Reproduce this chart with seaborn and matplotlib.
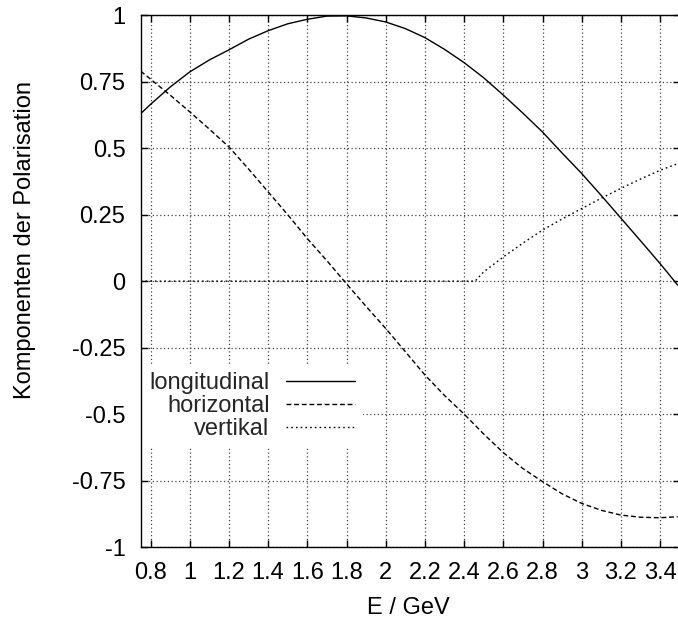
import matplotlib
matplotlib.use("Agg")
import matplotlib.pyplot as plt
import seaborn as sns
import pandas as pd

# ---- data ----
energy = [0.75, 0.8, 0.9, 1.0, 1.1, 1.2, 1.3, 1.4, 1.5, 1.6, 1.7, 1.8, 1.9, 2.0,
          2.1, 2.2, 2.3, 2.4, 2.5, 2.6, 2.7, 2.8, 2.9, 3.0, 3.1, 3.2, 3.3, 3.4, 3.49]
longitudinal = [0.63, 0.665, 0.73, 0.787, 0.832, 0.870, 0.91, 0.942, 0.968, 0.985,
                0.997, 0.998, 0.99, 0.975, 0.95, 0.916, 0.872, 0.822, 0.765, 0.700,
                0.632, 0.561, 0.482, 0.405, 0.322, 0.237, 0.152, 0.066, -0.015]
horizontal = [0.79, 0.76, 0.70, 0.637, 0.572, 0.505, 0.422, 0.336, 0.25, 0.160,
              0.077, -0.01, -0.095, -0.178, -0.265, -0.353, -0.43, -0.5, -0.575,
              -0.645, -0.705, -0.754, -0.80, -0.836, -0.862, -0.880, -0.888, -0.890, -0.886]
energy_v = [0.75, 2.456, 2.5, 2.6, 2.7, 2.8, 2.9, 3.0, 3.1, 3.2, 3.3, 3.4, 3.49]
vertikal = [0.0, 0.0, 0.035, 0.091, 0.143, 0.192, 0.234, 0.273, 0.312, 0.349, 0.384, 0.417, 0.442]

series_names = ["longitudinal", "horizontal", "vertikal"]
x_ticks = [0.8, 1.0, 1.2, 1.4, 1.6, 1.8, 2.0, 2.2, 2.4, 2.6, 2.8, 3.0, 3.2, 3.4]
x_ticklabels = ["0.8", "1", "1.2", "1.4", "1.6", "1.8", "2", "2.2", "2.4", "2.6", "2.8", "3", "3.2", "3.4"]
y_ticks = [-1, -0.75, -0.5, -0.25, 0, 0.25, 0.5, 0.75, 1]
y_ticklabels = ["-1", "-0.75", "-0.5", "-0.25", "0", "0.25", "0.5", "0.75", "1"]

FS = 17

sns.set_theme(style="white")
plt.rcParams["font.family"] = ["Liberation Sans", "DejaVu Sans"]

fig = plt.figure(figsize=(6.78, 6.24), dpi=100)
ax = fig.add_axes([140.7 / 678, 77 / 624, 539 / 678, 531.7 / 624])

df_l = pd.DataFrame({"E": energy, "P": longitudinal})
df_h = pd.DataFrame({"E": energy, "P": horizontal})
df_v = pd.DataFrame({"E": energy_v, "P": vertikal})

sns.lineplot(data=df_l, x="E", y="P", ax=ax, color="black", linewidth=1.0,
             linestyle="-", label=series_names[0], sort=False, estimator=None)
sns.lineplot(data=df_h, x="E", y="P", ax=ax, color="black", linewidth=1.0,
             linestyle=(0, (3.5, 2.0)), label=series_names[1], sort=False, estimator=None)
sns.lineplot(data=df_v, x="E", y="P", ax=ax, color="black", linewidth=1.0,
             linestyle=(0, (1.2, 2.2)), label=series_names[2], sort=False, estimator=None)

ax.set_xlim(0.75, 3.5)
ax.set_ylim(-1, 1)
ax.set_xticks(x_ticks)
ax.set_xticklabels(x_ticklabels)
ax.set_yticks(y_ticks)
ax.set_yticklabels(y_ticklabels)

ax.grid(True, color="#444444", linestyle=(0, (1, 2)), linewidth=0.9)
ax.set_axisbelow(True)
for s in ax.spines.values():
    s.set_visible(True)
    s.set_color("black")
    s.set_linewidth(1.0)
    s.set_zorder(6)

ax.tick_params(axis="both", which="major", direction="in", length=5, width=1,
               color="black", labelsize=FS, labelcolor="black", pad=11,
               top=True, right=True, bottom=True, left=True)

ax.set_xlabel("E / GeV", fontsize=FS, color="black")
ax.set_ylabel("Komponenten der Polarisation", fontsize=FS, color="black")
ax.xaxis.set_label_coords((408 - 140.7) / 539, (547 - 597) / 531.7)
ax.yaxis.set_label_coords((36 - 140.7) / 539, (547 - 240) / 531.7)

leg = ax.legend(loc="center", bbox_to_anchor=((252 - 140.7) / 539, (547 - 406) / 531.7),
                markerfirst=False, frameon=True, fontsize=FS, handlelength=2.9,
                handletextpad=0.7, labelspacing=0.04, borderpad=0.3,
                fancybox=False, borderaxespad=0)
leg.get_frame().set_facecolor("white")
leg.get_frame().set_edgecolor("white")
leg.get_frame().set_alpha(1.0)
for line in leg.get_lines():
    line.set_linewidth(1.0)

fig.savefig("out.png", dpi=100)
